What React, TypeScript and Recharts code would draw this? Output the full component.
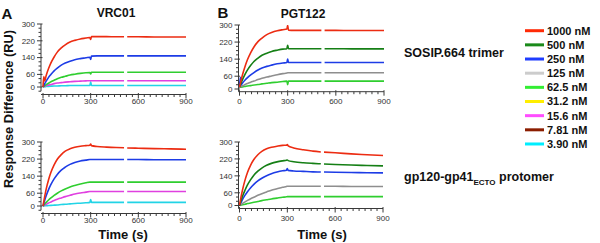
import React from 'react';
import { LineChart, Line, XAxis, YAxis, ReferenceLine } from 'recharts';

// ---------- data ----------
const timePoints = [0, 5, 10, 20, 35, 50, 70, 90, 115, 140, 170, 200, 235, 270, 295, 300, 305, 340, 400, 460, 510, 520, 530, 600, 700, 800, 900];

// VRC01 / SOSIP.664 trimer
const vrc01Trimer1000 = [0, 50, 29, 55, 88, 115, 143, 166, 186, 201, 214, 222, 229, 233, 236, 226, 240, 240, 240, 239, 239, null, 239, 239, 238, 238, 238];
const vrc01Trimer250 = [0, 8, 15, 28, 46, 60, 77, 90, 104, 114, 123, 130, 135, 139, 142, 131, 147, 148, 148, 148, 148, null, 148, 148, 148, 148, 148];
const vrc01Trimer62 = [0, 3, 6, 11, 18, 25, 32, 39, 46, 51, 57, 61, 65, 68, 69, 62, 70, 70, 70, 70, 70, null, 70, 70, 70, 70, 70];
const vrc01Trimer15 = [0, 2, 3, 6, 9, 12, 16, 19, 21, 23, 25, 27, 28, 29, 30, 30, 30, 30, 30, 30, 30, null, 30, 30, 30, 30, 30];
const vrc01Trimer3 = [0, 1, 1, 2, 3, 4, 5, 5, 6, 6, 7, 7, 7, 7, 7, 25, 7, 7, 7, 7, 7, null, 7, 7, 7, 7, 7];

// PGT122 / SOSIP.664 trimer
const pgt122Trimer1000 = [8, 25, 41, 70, 107, 138, 171, 197, 222, 239, 255, 265, 273, 278, 281, 298, 276, 275, 275, 275, 275, null, 275, 275, 274, 274, 274];
const pgt122Trimer500 = [8, 18, 28, 46, 70, 90, 111, 129, 145, 158, 168, 176, 182, 187, 189, 205, 189, 189, 189, 189, 189, null, 189, 189, 188, 188, 188];
const pgt122Trimer250 = [8, 55, 19, 29, 42, 53, 66, 77, 89, 98, 106, 112, 118, 122, 124, 140, 124, 124, 124, 124, 124, null, 124, 124, 124, 124, 124];
const pgt122Trimer125 = [8, 10, 12, 15, 21, 26, 32, 37, 44, 50, 56, 61, 67, 72, 75, 76, 76, 76, 76, 76, 76, null, 76, 76, 76, 76, 76];
const pgt122Trimer62 = [8, 9, 9, 10, 12, 14, 16, 19, 21, 24, 27, 30, 32, 35, 37, 20, 37, 37, 37, 37, 37, null, 37, 37, 37, 37, 37];

// VRC01 / gp120-gp41ECTO protomer
const vrc01Proto1000 = [0, 22, 42, 79, 123, 158, 193, 219, 241, 257, 268, 275, 280, 283, 285, 290, 283, 279, 276, 274, 273, null, 272, 271, 269, 268, 266];
const vrc01Proto250 = [0, 13, 25, 48, 77, 101, 127, 148, 168, 182, 195, 204, 211, 215, 218, 218, 218, 218, 218, 218, 218, null, 218, 218, 217, 217, 217];
const vrc01Proto62 = [0, 4, 9, 17, 28, 38, 50, 60, 71, 80, 89, 96, 103, 109, 112, 112, 112, 112, 112, 112, 112, null, 112, 112, 112, 112, 112];
const vrc01Proto15 = [0, 2, 4, 8, 14, 19, 26, 32, 38, 44, 50, 56, 61, 65, 68, 68, 68, 68, 68, 68, 68, null, 68, 68, 68, 68, 68];
const vrc01Proto3 = [0, 0, 1, 1, 2, 3, 4, 5, 7, 8, 10, 12, 13, 15, 17, 30, 17, 17, 17, 17, 17, null, 17, 17, 17, 17, 17];

// PGT122 / gp120-gp41ECTO protomer
const pgt122Proto1000 = [0, 22, 42, 77, 121, 156, 191, 217, 240, 256, 268, 275, 280, 284, 285, 288, 282, 272, 263, 257, 253, null, 252, 249, 244, 240, 236];
const pgt122Proto500 = [0, 12, 24, 46, 73, 97, 122, 143, 162, 177, 190, 199, 206, 211, 214, 215, 212, 207, 202, 199, 197, null, 196, 194, 191, 189, 187];
const pgt122Proto250 = [0, 8, 15, 30, 49, 65, 84, 100, 116, 129, 141, 150, 158, 164, 167, 175, 166, 163, 161, 159, 158, null, 158, 157, 156, 155, 154];
const pgt122Proto125 = [0, 3, 5, 10, 17, 24, 32, 39, 48, 56, 64, 72, 79, 86, 90, 91, 91, 91, 91, 91, 91, null, 91, 91, 90, 90, 90];
const pgt122Proto62 = [0, 1, 2, 4, 6, 9, 12, 15, 19, 23, 27, 31, 35, 39, 41, 42, 42, 42, 42, 42, 42, null, 42, 42, 42, 42, 42];

const yTicksA = [-20, 0, 20, 40, 60, 80, 100, 120, 140, 160, 180, 200, 220, 240, 260, 280, 300];
const yTicksB = [0, 20, 40, 60, 80, 100, 120, 140, 160, 180, 200, 220, 240, 260, 280, 300];
const yTickLabels = [0, 60, 140, 220, 300];
const xTicks = [0, 37.5, 75, 112.5, 150, 187.5, 225, 262.5, 300, 337.5, 375, 412.5, 450, 487.5, 525, 562.5, 600, 637.5, 675, 712.5, 750, 787.5, 825, 862.5, 900];
const xTickLabels = [0, 300, 600, 900];

const legendLabels = ['1000 nM', '500 nM', '250 nM', '125 nM', '62.5 nM', '31.2 nM', '15.6 nM', '7.81 nM', '3.90 nM'];

// ---------- styles ----------
const FONT = '"Liberation Sans", Arial, Helvetica, sans-serif';
const AXIS = '#3a3a3a';
const C = {
  red: '#ec2c12',
  dgreen: '#157f15',
  blue: '#1d3ce6',
  gray: '#8e8e8e',
  green: '#2fce2f',
  magenta: '#e040e0',
  cyan: '#22d4e6',
};
const legendColors = ['#ff2a06', '#1a8a1a', '#1f3dff', '#cccccc', '#33ee33', '#ffee00', '#ff4dff', '#8b1d00', '#00eeff'];

type Series = { values: (number | null)[]; color: string };
type Panel = {
  series: Series[];
  plotLeft: number; t0: number; plotRight: number;
  topY: number; zeroY: number; axisY: number;
  yTicks: number[]; yLineBottom: number | null; labelBaseline: number;
};

const panels: Panel[] = [
  {
    series: [
      { values: vrc01Trimer3, color: C.cyan },
      { values: vrc01Trimer15, color: C.magenta },
      { values: vrc01Trimer62, color: C.green },
      { values: vrc01Trimer250, color: C.blue },
      { values: vrc01Trimer1000, color: C.red },
    ],
    plotLeft: 41, t0: 43, plotRight: 186, topY: 24, zeroY: 87, axisY: 94.5,
    yTicks: yTicksA, yLineBottom: -20, labelBaseline: 103.5,
  },
  {
    series: [
      { values: pgt122Trimer62, color: C.green },
      { values: pgt122Trimer125, color: C.gray },
      { values: pgt122Trimer250, color: C.blue },
      { values: pgt122Trimer500, color: C.dgreen },
      { values: pgt122Trimer1000, color: C.red },
    ],
    plotLeft: 238.5, t0: 239.5, plotRight: 384, topY: 25, zeroY: 89, axisY: 91.7,
    yTicks: yTicksB, yLineBottom: null, labelBaseline: 103.5,
  },
  {
    series: [
      { values: vrc01Proto3, color: C.cyan },
      { values: vrc01Proto15, color: C.magenta },
      { values: vrc01Proto62, color: C.green },
      { values: vrc01Proto250, color: C.blue },
      { values: vrc01Proto1000, color: C.red },
    ],
    plotLeft: 41, t0: 43, plotRight: 186, topY: 142, zeroY: 206, axisY: 213.5,
    yTicks: yTicksA, yLineBottom: -20, labelBaseline: 223,
  },
  {
    series: [
      { values: pgt122Proto62, color: C.green },
      { values: pgt122Proto125, color: C.gray },
      { values: pgt122Proto250, color: C.blue },
      { values: pgt122Proto500, color: C.dgreen },
      { values: pgt122Proto1000, color: C.red },
    ],
    plotLeft: 238.5, t0: 239.5, plotRight: 383, topY: 142, zeroY: 205.5, axisY: 208.5,
    yTicks: yTicksB, yLineBottom: null, labelBaseline: 221,
  },
];

const W = 600;
const H = 243;
const XAXIS_H = 20;

function PanelChart({ p }: { p: Panel }) {
  const data = timePoints.map((t, i) => {
    const row: Record<string, number | null> = { t };
    p.series.forEach((s, j) => { row['s' + j] = s.values[i]; });
    return row;
  });
  const xmin = -((p.t0 - p.plotLeft) * 900) / (p.plotRight - p.t0);
  const pxPerRU = (p.zeroY - p.topY) / 300;
  const ymin = -(p.axisY - p.zeroY) / pxPerRU;
  const yLineBottom = p.yLineBottom === null ? ymin : p.yLineBottom;

  const yTick = (props: any) => {
    const { y, payload } = props;
    const v = payload.value;
    const labeled = yTickLabels.includes(v);
    const ax = p.plotLeft;
    return (
      <g>
        <line x1={ax - (labeled ? 4 : 2.5)} x2={ax + (labeled ? 1.5 : 0)} y1={y} y2={y} stroke={AXIS} strokeWidth={1} />
        {labeled && (
          <text x={ax - 6} y={y} dy="0.35em" textAnchor="end" fontSize={8} fontFamily={FONT} fill="#333">{v}</text>
        )}
      </g>
    );
  };
  const xTick = (props: any) => {
    const { x, payload } = props;
    const v = payload.value;
    const labeled = xTickLabels.includes(v);
    return (
      <g>
        <line x1={x} x2={x} y1={p.axisY - (labeled ? 1.5 : 0)} y2={p.axisY + (labeled ? 4 : 2.5)} stroke={AXIS} strokeWidth={1} />
        {labeled && (
          <text x={x} y={p.labelBaseline} textAnchor="middle" fontSize={8} fontFamily={FONT} fill="#333">{v}</text>
        )}
      </g>
    );
  };

  return (
    <div style={{ position: 'absolute', left: 0, top: 0, width: W, height: H }}>
      <LineChart
        width={W}
        height={H}
        data={data}
        margin={{ top: p.topY, right: W - p.plotRight, left: 0, bottom: H - p.axisY - XAXIS_H }}
      >
        <XAxis
          type="number"
          dataKey="t"
          domain={[xmin, 900]}
          ticks={xTicks}
          interval={0}
          height={XAXIS_H}
          allowDataOverflow
          axisLine={{ stroke: AXIS, strokeWidth: 1 }}
          tickLine={false}
          tick={xTick}
        />
        <YAxis
          type="number"
          domain={[ymin, 300]}
          ticks={p.yTicks}
          interval={0}
          width={p.plotLeft}
          allowDataOverflow
          axisLine={false}
          tickLine={false}
          tick={yTick}
        />
        <ReferenceLine
          segment={[{ x: xmin, y: yLineBottom }, { x: xmin, y: 300 }]}
          stroke={AXIS}
          strokeWidth={1}
          ifOverflow="visible"
        />
        {p.series.map((s, j) => (
          <Line
            key={j}
            type="monotone"
            dataKey={'s' + j}
            stroke={s.color}
            strokeWidth={1.6}
            dot={false}
            isAnimationActive={false}
            connectNulls={false}
          />
        ))}
      </LineChart>
    </div>
  );
}

function Overlay() {
  const bold = { fontFamily: FONT, fontWeight: 700 as const, fill: '#111' };
  return (
    <svg width={W} height={H} style={{ position: 'absolute', left: 0, top: 0, pointerEvents: 'none' }}>
      <text x={1.5} y={18.5} fontSize={15} {...bold}>A</text>
      <text x={217.5} y={17.5} fontSize={15} {...bold}>B</text>
      <text x={116} y={17} fontSize={12} textAnchor="middle" {...bold}>VRC01</text>
      <text x={303} y={17.5} fontSize={12} textAnchor="middle" {...bold}>PGT122</text>
      <text x={12.5} y={109} fontSize={12.8} textAnchor="middle" transform="rotate(-90 12.5 109)" {...bold}>Response Difference (RU)</text>
      <text x={123} y={238.5} fontSize={13} textAnchor="middle" {...bold}>Time (s)</text>
      <text x={322} y={238.5} fontSize={13} textAnchor="middle" {...bold}>Time (s)</text>
      <text x={404} y={57} fontSize={12.5} {...bold}>SOSIP.664 trimer</text>
      <text x={404} y={181} fontSize={12.5} {...bold}>
        gp120-gp41<tspan fontSize={8} dy={4}>ECTO</tspan><tspan dy={-4}> protomer</tspan>
      </text>
      {legendLabels.map((lab, i) => {
        const y = 30.7 + i * 14.16;
        return (
          <g key={lab}>
            <line x1={525} x2={544} y1={y} y2={y} stroke={legendColors[i]} strokeWidth={3} />
            <text x={547} y={y} dy="0.36em" fontSize={11} {...bold}>{lab}</text>
          </g>
        );
      })}
    </svg>
  );
}

export default function App() {
  return (
    <div style={{ position: 'absolute', left: 0, top: 0, width: W, height: H, background: '#fff', overflow: 'hidden' }}>
      {panels.map((p, i) => <PanelChart key={i} p={p} />)}
      <Overlay />
    </div>
  );
}
